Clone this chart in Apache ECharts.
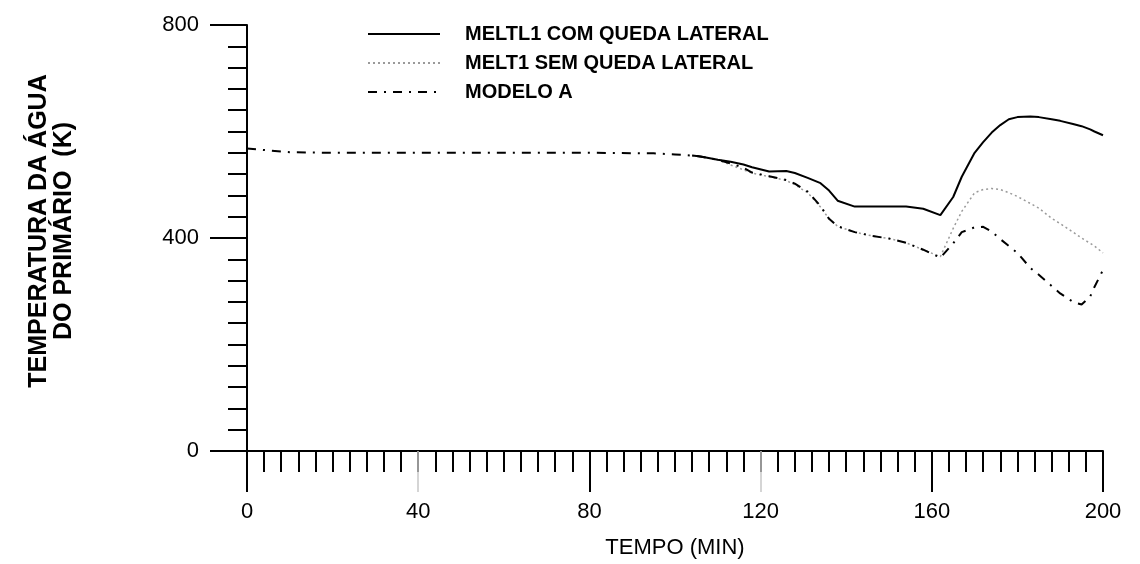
<!DOCTYPE html>
<html lang="pt">

<head>
    <meta charset="UTF-8">
    <title>Temperatura da agua do primario</title>
    <script src="https://cdnjs.cloudflare.com/ajax/libs/echarts/6.0.0/echarts.min.js"></script>
    <style>
        body {
            margin: 0;
            background: #fff;
        }
    </style>
</head>

<body>
    <div id="main" style="width: 1140px;height:564px;"></div>
    <script>
        // MODELO A: tempo (min) e temperatura (K)
        const tempoA = [0, 10, 20, 40, 60, 80, 95, 100, 105, 110, 113, 116, 118, 122, 126, 128, 131, 134, 136, 138, 142, 146, 150, 154, 158, 162,
            165, 167, 170, 172, 174, 176, 178, 180, 183, 185, 188, 190, 193, 195, 197, 198, 200];
        const modeloA = [568, 561, 560, 560, 560, 560, 559, 557, 554, 547, 540, 532, 523, 516, 509, 502, 487, 460, 436, 422, 411, 404, 399, 391, 378, 363,
            390, 411, 420, 421, 412, 398, 385, 372, 344, 331, 310, 296, 280, 275, 290, 308, 340];

        // MELT: as curvas comecam perto de 104 min
        const tempoMelt = [104, 106, 110, 113, 116, 118, 122, 126, 128, 131, 134, 136, 138, 142, 146, 150, 154, 158, 162,
            165, 167, 170, 172, 174, 176, 178, 180, 183, 185, 188, 190, 193, 195, 197, 198, 200];
        const comQueda = [555, 553, 547, 543, 538, 533, 525, 526, 522, 513, 503, 489, 470, 459, 459, 459, 459, 455, 443,
            477, 515, 560, 580, 598, 612, 623, 627, 628, 627, 623, 620, 614, 610, 604, 600, 593];
        const semQueda = [555, 553, 547, 537, 528, 522, 515, 508, 500, 485, 458, 436, 422, 411, 404, 399, 391, 378, 365,
            418, 450, 485, 491, 493, 491, 485, 478, 465, 456, 437, 427, 411, 400, 390, 385, 372];

        const nomes = ['MELTL1 COM QUEDA LATERAL', 'MELT1 SEM QUEDA LATERAL', 'MODELO A'];

        const chart = echarts.init(document.getElementById('main'));

        function pares(ts, ys) {
            return ts.map((t, i) => [t, ys[i]]);
        }

        const fonte = 'Liberation Sans, Arial, sans-serif';
        const fonteEstreita = 'Liberation Sans Narrow, Arial Narrow, Liberation Sans, sans-serif';

        var option = {
            animation: false,
            backgroundColor: '#fff',
            grid: { left: 247, right: 37, top: 25, bottom: 113 },
            legend: {
                orient: 'vertical',
                left: 362,
                top: 19,
                itemWidth: 72,
                itemHeight: 14,
                itemGap: 9,
                data: nomes,
                itemStyle: { opacity: 0 },
                textStyle: { fontFamily: fonte, fontSize: 20, fontWeight: 'bold', color: '#000', padding: [0, 0, 0, 20] }
            },
            xAxis: [
                {
                    type: 'value', min: 0, max: 200, interval: 40,
                    name: 'TEMPO (MIN)', nameLocation: 'middle', nameGap: 86,
                    nameTextStyle: { fontFamily: fonteEstreita, fontSize: 22, color: '#000' },
                    axisLine: { show: true, onZero: false, lineStyle: { color: '#000', width: 2 } },
                    axisTick: { show: true, length: 41, customValues: [0, 80, 160, 200], lineStyle: { color: '#000', width: 2 } },
                    axisLabel: { margin: 50, fontFamily: fonteEstreita, fontSize: 22, color: '#000' },
                    splitLine: { show: false }
                },
                {
                    type: 'value', min: 0, max: 200, interval: 4, position: 'bottom',
                    axisLine: { show: false },
                    axisTick: { show: true, length: 21, lineStyle: { color: '#000', width: 2 } },
                    axisLabel: { show: false },
                    splitLine: { show: false }
                },
                {
                    // marcas fracas em 40 e 120
                    type: 'value', min: 0, max: 200, interval: 40, position: 'bottom',
                    axisLine: { show: false },
                    axisTick: { show: true, length: 41, customValues: [40, 120], lineStyle: { color: '#c8c8c8', width: 1.5 } },
                    axisLabel: { show: false },
                    splitLine: { show: false }
                }
            ],
            yAxis: {
                type: 'value', min: 0, max: 800, interval: 400,
                name: 'TEMPERATURA DA ÁGUA\nDO PRIMÁRIO  (K)', nameLocation: 'middle', nameRotate: 90, nameGap: 170,
                nameTextStyle: { fontFamily: fonte, fontSize: 25, fontWeight: 'bold', color: '#000', lineHeight: 25, padding: [0, 0, 0, 14] },
                axisLine: { show: true, lineStyle: { color: '#000', width: 2 } },
                axisTick: { show: true, length: 37, lineStyle: { color: '#000', width: 2 } },
                minorTick: { show: true, splitNumber: 10, length: 19, lineStyle: { color: '#000', width: 2 } },
                axisLabel: { margin: 48, fontFamily: fonte, fontSize: 22, color: '#000' },
                splitLine: { show: false }
            },
            series: [
                {
                    name: nomes[0], type: 'line', data: pares(tempoMelt, comQueda), symbol: 'none', z: 4,
                    itemStyle: { color: '#000' },
                    lineStyle: { color: '#000', width: 2, type: 'solid' }
                },
                {
                    name: nomes[1], type: 'line', data: pares(tempoMelt, semQueda), symbol: 'none', z: 2,
                    itemStyle: { color: '#9a9a9a' },
                    lineStyle: { color: '#9a9a9a', width: 1.5, type: [2, 3] }
                },
                {
                    name: nomes[2], type: 'line', data: pares(tempoA, modeloA), symbol: 'none', z: 3,
                    itemStyle: { color: '#000' },
                    lineStyle: { color: '#000', width: 2, type: [9, 7, 2, 7] }
                }
            ]
        };

        chart.setOption(option);

        // eixo vertical continua abaixo do zero, como no original
        const p0 = chart.convertToPixel({ gridIndex: 0 }, [0, 0]);
        chart.setOption({
            graphic: [{
                type: 'line',
                shape: { x1: p0[0], y1: p0[1], x2: p0[0], y2: p0[1] + 41 },
                style: { stroke: '#000', lineWidth: 2 }
            }]
        });
    </script>
</body>

</html>
